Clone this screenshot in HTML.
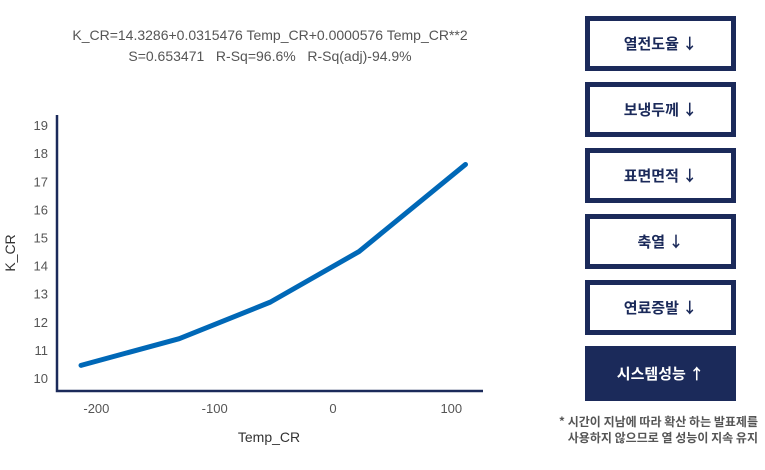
<!DOCTYPE html>
<html><head><meta charset="utf-8"><style>
body{margin:0;width:765px;height:470px;background:#fff;font-family:"Liberation Sans","Noto Sans CJK KR",sans-serif;position:relative;overflow:hidden}
.eq{position:absolute;left:0;width:540px;text-align:center;color:#555;font-size:14px}
.btn{position:absolute;left:585px;width:151px;height:55px;box-sizing:border-box;border:5px solid #1b2a5a;display:flex;align-items:center;justify-content:center;font-weight:bold;font-size:15px;color:#1b2a5a;font-family:"Noto Sans CJK KR",sans-serif}
.note{position:absolute;left:540px;width:218px;text-align:right;font-size:12px;color:#555;line-height:16px;font-family:"Noto Sans CJK KR",sans-serif;font-weight:bold}
</style></head><body>
<div class="eq" style="top:27px">K_CR=14.3286+0.0315476 Temp_CR+0.0000576 Temp_CR**2</div>
<div class="eq" style="top:48px">S=0.653471&nbsp;&nbsp; R-Sq=96.6%&nbsp;&nbsp; R-Sq(adj)-94.9%</div>
<svg id="chart" width="540" height="470" style="position:absolute;left:0;top:0"></svg>
<div class="btn" style="top:16px">열전도율 ↓</div>
<div class="btn" style="top:82px">보냉두께 ↓</div>
<div class="btn" style="top:148px">표면면적 ↓</div>
<div class="btn" style="top:214px">축열 ↓</div>
<div class="btn" style="top:280px">연료증발 ↓</div>
<div class="btn" style="top:346px;background:#1b2a5a;color:#fff;border-color:#1b2a5a">시스템성능 ↑</div>
<div class="note" style="top:414px">* 시간이 지남에 따라 확산 하는 발표제를<br>사용하지 않으므로 열 성능이 지속 유지</div>
<script>
const xs=[-213,-130,-53,22,112];
const ys=[10.45,11.4,12.7,14.5,17.6];
const xTicks=[-200,-100,0,100];
const yTicks=[10,11,12,13,14,15,16,17,18,19];
const X=v=>333+v*1.183, Y=v=>378-(v-10)*28.1;
const svg=document.getElementById('chart'),NS='http://www.w3.org/2000/svg';
function mk(t,a,txt){const e=document.createElementNS(NS,t);for(const k in a)e.setAttribute(k,a[k]);if(txt!=null)e.textContent=txt;svg.appendChild(e);return e;}
let e=mk('path',{d:'M57,115V391H483',fill:'none',stroke:'#1b2a5a','stroke-width':2.5});


yTicks.forEach(t=>{const l=mk('text',{x:48,y:Y(t)+5,'text-anchor':'end','font-size':13,fill:'#555'},t);

});
xTicks.forEach(t=>{const l=mk('text',{x:X(t),y:413,'text-anchor':'middle','font-size':13,fill:'#555'},t);

});
e=mk('text',{x:269,y:442,'text-anchor':'middle','font-size':14,fill:'#333'},'Temp_CR');


e=mk('text',{x:15,y:253,'text-anchor':'middle','font-size':14,fill:'#333',transform:'rotate(-90 15 253)'},'K_CR');


e=mk('polyline',{points:xs.map((x,i)=>X(x)+','+Y(ys[i])).join(' '),fill:'none',stroke:'#0068b7','stroke-width':5,'stroke-linecap':'round','stroke-linejoin':'round'});


</script>
</body></html>
